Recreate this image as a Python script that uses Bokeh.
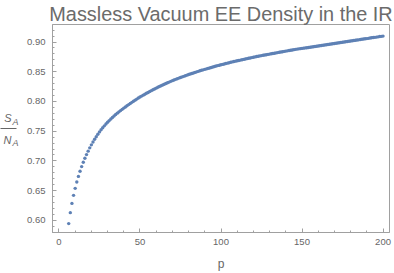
from bokeh.plotting import figure
from bokeh.models import LinearAxis, FixedTicker, PrintfTickFormatter, Range1d
from bokeh.embed import file_html
from bokeh.resources import INLINE

# ---- data ----
p_values = list(range(6, 201))
s_over_n = [
    0.5945, 0.6129, 0.6285, 0.6420, 0.6538, 0.6644, 0.6739, 0.6825, 0.6904, 0.6976,
    0.7044, 0.7106, 0.7164, 0.7219, 0.7270, 0.7318, 0.7364, 0.7407, 0.7449, 0.7488,
    0.7524, 0.7558, 0.7590, 0.7621, 0.7649,
    0.7678, 0.7705, 0.7731, 0.7756, 0.7780, 0.7803, 0.7825, 0.7846, 0.7867, 0.7888,
    0.7908, 0.7928, 0.7947, 0.7966, 0.7985, 0.8004, 0.8022, 0.8040, 0.8057, 0.8074,
    0.8090, 0.8106, 0.8122, 0.8137, 0.8152, 0.8167, 0.8182, 0.8196, 0.8210, 0.8224,
    0.8238, 0.8251, 0.8264, 0.8277, 0.8290, 0.8302, 0.8314, 0.8326, 0.8338, 0.8350,
    0.8361, 0.8372, 0.8383, 0.8393, 0.8403, 0.8413, 0.8423, 0.8433, 0.8443, 0.8453,
    0.8462, 0.8471, 0.8480, 0.8489, 0.8498, 0.8507, 0.8516, 0.8524, 0.8532, 0.8540,
    0.8548, 0.8556, 0.8564, 0.8572, 0.8580, 0.8588, 0.8596, 0.8603, 0.8610, 0.8617,
    0.8624, 0.8631, 0.8638, 0.8645, 0.8652, 0.8659, 0.8666, 0.8672, 0.8678, 0.8684,
    0.8690, 0.8696, 0.8702, 0.8708, 0.8714, 0.8720, 0.8726, 0.8732, 0.8738, 0.8744,
    0.8750, 0.8756, 0.8762, 0.8767, 0.8772, 0.8777, 0.8782, 0.8787, 0.8792, 0.8797,
    0.8802, 0.8807, 0.8812, 0.8817, 0.8822, 0.8827, 0.8832, 0.8837, 0.8842, 0.8847,
    0.8852, 0.8857, 0.8862, 0.8867, 0.8872, 0.8877, 0.8881, 0.8885, 0.8889, 0.8893,
    0.8897, 0.8901, 0.8905, 0.8909, 0.8913, 0.8917, 0.8921, 0.8925, 0.8929, 0.8933,
    0.8937, 0.8941, 0.8945, 0.8949, 0.8954, 0.8958, 0.8962, 0.8966, 0.8970, 0.8975,
    0.8979, 0.8983, 0.8987, 0.8991, 0.8996, 0.9000, 0.9004, 0.9008, 0.9012, 0.9017,
    0.9021, 0.9025, 0.9029, 0.9033, 0.9037, 0.9042, 0.9046, 0.9050, 0.9054, 0.9058,
    0.9062, 0.9067, 0.9071, 0.9075, 0.9079, 0.9083, 0.9087, 0.9092, 0.9096, 0.9100,
]
x_ticks = [0, 50, 100, 150, 200]
x_minor_ticks = [10, 20, 30, 40, 60, 70, 80, 90, 110, 120, 130, 140, 160, 170, 180, 190]
y_ticks = [0.60, 0.65, 0.70, 0.75, 0.80, 0.85, 0.90]
y_minor_ticks = [0.58, 0.59, 0.61, 0.62, 0.63, 0.64, 0.66, 0.67, 0.68, 0.69, 0.71, 0.72,
                 0.73, 0.74, 0.76, 0.77, 0.78, 0.79, 0.81, 0.82, 0.83, 0.84, 0.86, 0.87,
                 0.88, 0.89, 0.91, 0.92]
title_text = "Massless Vacuum EE Density in the IR"
x_label = "p"
y_label_num, y_label_den, y_label_sub = "S", "N", "A"

# ---- layout / style ----
W, H = 394, 273
BORDER_L, BORDER_R, BORDER_T, BORDER_B = 50, 5, 23, 40
Y0, Y1 = 0.5795, 0.9295
FRAME = "#a0a0a0"
TEXT = "#666666"
DOT = "#5e81b5"
FONT = "Liberation Sans"

frame_h = H - BORDER_T - BORDER_B
def y_at_px(py):
    """data y for a canvas pixel row (used only to place the y-axis label pieces)"""
    return Y1 - (py - BORDER_T) * (Y1 - Y0) / frame_h

p = figure(width=W, height=H, output_backend="svg", toolbar_location=None,
           title=title_text,
           x_range=Range1d(-4, 204), y_range=Range1d(Y0, Y1),
           min_border_left=BORDER_L, min_border_right=BORDER_R,
           min_border_top=BORDER_T, min_border_bottom=BORDER_B)
p.grid.visible = False
p.outline_line_color = FRAME
p.outline_line_width = 1

p.title.align = "center"
p.title.text_font = FONT
p.title.text_font_size = "19.9px"
p.title.text_font_style = "normal"
p.title.text_color = "#6b6b6b"
p.title.standoff = 0
p.title.offset = 0

p.scatter(p_values, s_over_n, size=3.4, fill_color=DOT, line_color=None)

for ax in (p.xaxis[0], p.yaxis[0]):
    ax.axis_line_color = FRAME
    ax.major_tick_line_color = FRAME
    ax.minor_tick_line_color = FRAME
    ax.major_tick_in = 4
    ax.major_tick_out = 0
    ax.minor_tick_in = 2
    ax.minor_tick_out = 0
    ax.major_label_text_color = TEXT
    ax.major_label_text_font = FONT
    ax.major_label_text_font_size = "9.5px"

p.xaxis.ticker = FixedTicker(ticks=x_ticks, minor_ticks=x_minor_ticks)
p.yaxis.ticker = FixedTicker(ticks=y_ticks, minor_ticks=y_minor_ticks)
p.yaxis.formatter = PrintfTickFormatter(format="%.2f")
p.yaxis.major_label_standoff = 7
p.xaxis.major_label_standoff = 6

p.xaxis.axis_label = x_label
p.xaxis.axis_label_text_font = FONT
p.xaxis.axis_label_text_font_style = "normal"
p.xaxis.axis_label_text_font_size = "12px"
p.xaxis.axis_label_text_color = TEXT
p.xaxis.axis_label_standoff = 9

# ---- y label  S_A / N_A, built from label-only axes stacked in the left panel ----
yS, yN = y_at_px(117), y_at_px(139.5)
yAS, yAN = y_at_px(121), y_at_px(143)
yBar = y_at_px(127.7)

def label_axis(ticks, texts, size, standoff):
    ax = LinearAxis(ticker=FixedTicker(ticks=ticks),
                    major_label_overrides=dict(zip(ticks, texts)),
                    axis_line_color=None, major_tick_line_color=None,
                    minor_tick_line_color=None, major_tick_out=0, major_tick_in=0,
                    major_label_standoff=standoff,
                    major_label_text_font=FONT, major_label_text_font_size=size,
                    major_label_text_font_style="italic",
                    major_label_text_color=TEXT)
    return ax

axis_sub = label_axis([yAS, yAN], [y_label_sub, y_label_sub], "9px", 6)
axis_main = label_axis([yS, yN], [y_label_num, y_label_den], "11px", -2)
axis_bar = LinearAxis(ticker=FixedTicker(ticks=[yBar]), major_label_overrides={yBar: ""},
                      axis_line_color=None, major_tick_line_color=TEXT,
                      minor_tick_line_color=None, major_tick_out=0, major_tick_in=16,
                      major_label_standoff=0, major_label_text_font_size="8px")
p.add_layout(axis_sub, "left")
p.add_layout(axis_main, "left")
p.add_layout(axis_bar, "left")

open("out.html", "w").write(file_html(p, INLINE))
